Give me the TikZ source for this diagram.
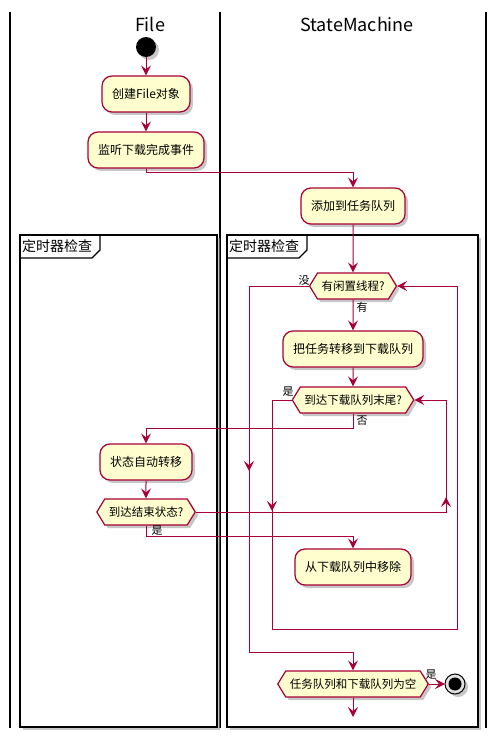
\documentclass[tikz,border=0pt]{standalone}
\usepackage{fontspec}
\setmainfont{Noto Sans CJK SC}
\usetikzlibrary{arrows.meta,shapes.symbols,shadows}
\definecolor{umlred}{HTML}{A80036}
\definecolor{umlfill}{HTML}{FEFECE}
\tikzset{
  shade3/.style={drop shadow={shadow xshift=3pt,shadow yshift=-3pt,fill=black!40,opacity=.55}},
  act/.style={draw=umlred,fill=umlfill,line width=1.2pt,rounded corners=10pt,
    minimum height=36pt,inner xsep=10pt,font=\fontsize{12}{14}\selectfont,shade3},
  ask/.style={signal,signal to=west and east,signal pointer angle=117,draw=umlred,
    fill=umlfill,line width=1.2pt,minimum height=26pt,inner xsep=4pt,inner ysep=2pt,
    font=\fontsize{11.5}{13}\selectfont,shade3},
  flow/.style={umlred,line width=1pt,-{Stealth[length=10pt,width=10pt,inset=4pt]}},
  lbl/.style={font=\fontsize{11}{13}\selectfont,inner sep=0pt},
  grp/.style={draw=black,line width=1.2pt,fill=white,shade3}
}
\begin{document}
\begin{tikzpicture}[x=1pt,y=-1pt]
        \useasboundingbox (0,0) rectangle (497,738);
        % lanes
        \foreach \x in {10,220,486} \draw[line width=1.5pt] (\x,12) -- (\x,728);
        \node[font=\fontsize{18}{20}\selectfont] (lfile) at (150,24) {File};
        \node[font=\fontsize{18}{20}\selectfont] (lsm) at (357,24) {StateMachine};
        % timer groups
        \foreach \l/\r in {20/217,227/478} {
          \draw[grp] (\l,235) rectangle (\r,727);
          \draw[line width=1.2pt] (\l,258) -- (\l+72,258) -- (\l+80,250) -- (\l+80,235);
          \node[anchor=west,inner sep=0pt,font=\fontsize{14}{16}\selectfont] (tab\l) at (\l+2,246) {定时器检查};
        }
        % activities
        \fill[black!40,opacity=.55] (149,50) circle (10);
        \fill (146,47) circle (10) coordinate (start);
        \node[act] (mkfile) at (146,94) {创建File对象};
        \node[act] (listen) at (146,150) {监听下载完成事件};
        \node[act] (enqueue) at (353,206) {添加到任务队列};
        \node[ask] (idle) at (353,286) {有闲置线程?};
        \node[act] (transfer) at (353,349) {把任务转移到下载队列};
        \node[ask] (tail) at (353,400) {到达下载队列末尾?};
        \node[act] (auto) at (146,462) {状态自动转移};
        \node[ask] (done) at (146,512) {到达结束状态?};
        \node[act] (remove) at (353,567) {从下载队列中移除};
        \node[ask] (empty) at (353,684) {任务队列和下载队列为空};
        \fill[black!40,opacity=.55] (458,687) circle (10);
        \draw[fill=black!12,line width=1pt] (455,684) circle (10);
        \fill (455,684) circle (6.5);
        \coordinate (stop) at (445,684);
        \coordinate (out) at (353,717);
        % flows
        \draw[flow] (146,57) -- (mkfile);
        \draw[flow] (mkfile) -- (listen);
        \draw[flow] (listen.south) |- (353,173) -- (enqueue.north);
        \draw[flow] (enqueue) -- (idle);
        \draw[flow] (idle) -- (transfer);
        \draw[flow] (transfer) -- (tail);
        \draw[flow] (tail.south) |- (146,428) -- (auto.north);
        \draw[flow] (auto) -- (done);
        \draw[flow] (done.south) |- (353,536) -- (remove.north);
        \draw[flow] (done.east) -| (446,400) -- (tail.east);
        \draw[flow] (446,512) -- (446,497);
        \draw[flow] (tail.west) -| (272,629) -| (457,286) -- (idle.east);
        \draw[flow] (272,490) -- (272,511);
        \draw[flow] (idle.west) -| (249,652) -| (empty.north);
        \draw[flow] (249,450) -- (249,471);
        \draw[flow] (empty.east) -- (stop);
        \draw[flow] (empty.south) -- (out);
        % branch labels
        \node[lbl] (nidle) at (304,280) {没};
        \node[lbl] (yidle) at (362,307) {有};
        \node[lbl] (ytail) at (288,392) {是};
        \node[lbl] (ntail) at (362,421) {否};
        \node[lbl] (ydone) at (157,531) {是};
        \node[lbl] (yempty) at (431,675) {是};
\end{tikzpicture}
\end{document}
